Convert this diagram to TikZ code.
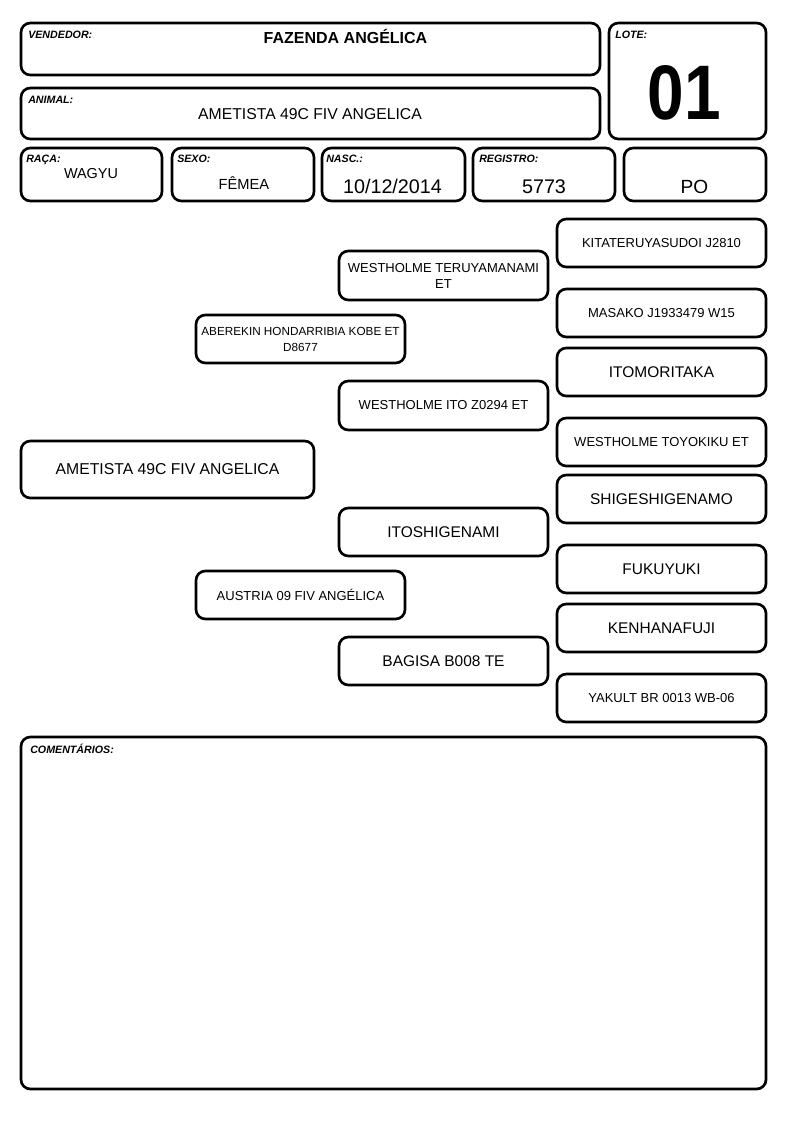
\documentclass[tikz,border=0pt]{standalone}
\usepackage{fontspec}
\setmainfont{Liberation Sans}
\begin{document}
\begin{tikzpicture}[x=0.75pt, y=-0.75pt]
\tikzset{
 bx/.style={draw, line width=2pt, rounded corners=7pt, inner sep=0pt},
 sz/.style 2 args={minimum width=#1*0.75pt, minimum height=#2*0.75pt},
 lbl/.style={font=\fontsize{8}{9}\selectfont\bfseries\itshape, inner sep=0pt, anchor=base west},
 val/.style={inner sep=0pt, anchor=base},
 small/.style={font=\fontsize{9.75}{12}\selectfont, align=center},
 big/.style={font=\fontsize{11.6}{14}\selectfont, align=center},
}
\fill[white] (0,0) rectangle (794,1123);
\useasboundingbox (0,0) rectangle (794,1123);

% header
\node[bx, sz={579}{52}] (vend) at (310.5,49) {};
\node[lbl] (vendl) at (28,39) {VENDEDOR:};
\node[val, font=\fontsize{12}{14}\selectfont\bfseries] (vendv) at (345.5,43.5) {FAZENDA ANGÉLICA};

\node[bx, sz={157}{116}] (lote) at (687.5,81) {};
\node[lbl] (lotel) at (615,39) {LOTE:};
\node[val, font=\fontsize{58}{60}\selectfont\bfseries] (lotev) at (684,119.5) {\scalebox{0.85}[1]{01}};

\node[bx, sz={579}{51}] (anim) at (310.5,113.5) {};
\node[lbl] (animl) at (28,103.3) {ANIMAL:};
\node[val, font=\fontsize{11.8}{14}\selectfont] (animv) at (310,120) {AMETISTA 49C FIV ANGELICA};

\node[bx, sz={141}{53}] (raca) at (91.5,174.5) {};
\node[lbl] (racal) at (26,162.3) {RAÇA:};
\node[val, font=\fontsize{10.8}{13}\selectfont] (racav) at (91,178.3) {WAGYU};

\node[bx, sz={142}{53}] (sexo) at (243,174.5) {};
\node[lbl] (sexol) at (177,162.3) {SEXO:};
\node[val, font=\fontsize{11}{13}\selectfont] (sexov) at (244,189.3) {FÊMEA};

\node[bx, sz={143}{53}] (nasc) at (393.5,174.5) {};
\node[lbl] (nascl) at (326,162.3) {NASC.:};
\node[val, font=\fontsize{14.8}{17}\selectfont] (nascv) at (392.5,194) {10/12/2014};

\node[bx, sz={142}{53}] (reg) at (544,174.5) {};
\node[lbl] (regl) at (479,162.3) {REGISTRO:};
\node[val, font=\fontsize{14.8}{17}\selectfont] (regv) at (544,194) {5773};

\node[bx, sz={142}{53}] (po) at (695,174.5) {};
\node[val, font=\fontsize{14.3}{17}\selectfont] (pov) at (694.5,194) {PO};

% pedigree
\node[bx, sz={293}{57}, big, font=\fontsize{11.8}{14}\selectfont] (p0) at (167.5,469.5) {AMETISTA 49C FIV ANGELICA};

\node[bx, sz={209}{48}, small, font=\fontsize{8.8}{12}\selectfont] (p1) at (300.5,339) {ABEREKIN HONDARRIBIA KOBE ET\\D8677};
\node[bx, sz={209}{48}, small] (p2) at (300.5,595) {AUSTRIA 09 FIV ANGÉLICA};

\node[bx, sz={209}{49}, small] (p3) at (443.5,275.5) {WESTHOLME TERUYAMANAMI\\ET};
\node[bx, sz={209}{49}, small] (p4) at (443.5,405.5) {WESTHOLME ITO Z0294 ET};
\node[bx, sz={209}{48}, big] (p5) at (443.5,532) {ITOSHIGENAMI};
\node[bx, sz={209}{48}, big] (p6) at (443.5,661) {BAGISA B008 TE};

\node[bx, sz={209}{48}, small] (p7) at (661.5,243) {KITATERUYASUDOI J2810};
\node[bx, sz={209}{48}, small] (p8) at (661.5,313) {MASAKO J1933479 W15};
\node[bx, sz={209}{48}, big] (p9) at (661.5,372) {ITOMORITAKA};
\node[bx, sz={209}{48}, small] (p10) at (661.5,442) {WESTHOLME TOYOKIKU ET};
\node[bx, sz={209}{48}, big] (p11) at (661.5,499) {SHIGESHIGENAMO};
\node[bx, sz={209}{48}, big] (p12) at (661.5,569) {FUKUYUKI};
\node[bx, sz={209}{48}, big] (p13) at (661.5,628) {KENHANAFUJI};
\node[bx, sz={209}{48}, small] (p14) at (661.5,698) {YAKULT BR 0013 WB-06};

% comments
\node[bx, sz={745}{352}] (com) at (393.5,913) {};
\node[lbl] (coml) at (30,753.5) {COMENTÁRIOS:};
\end{tikzpicture}
\end{document}
